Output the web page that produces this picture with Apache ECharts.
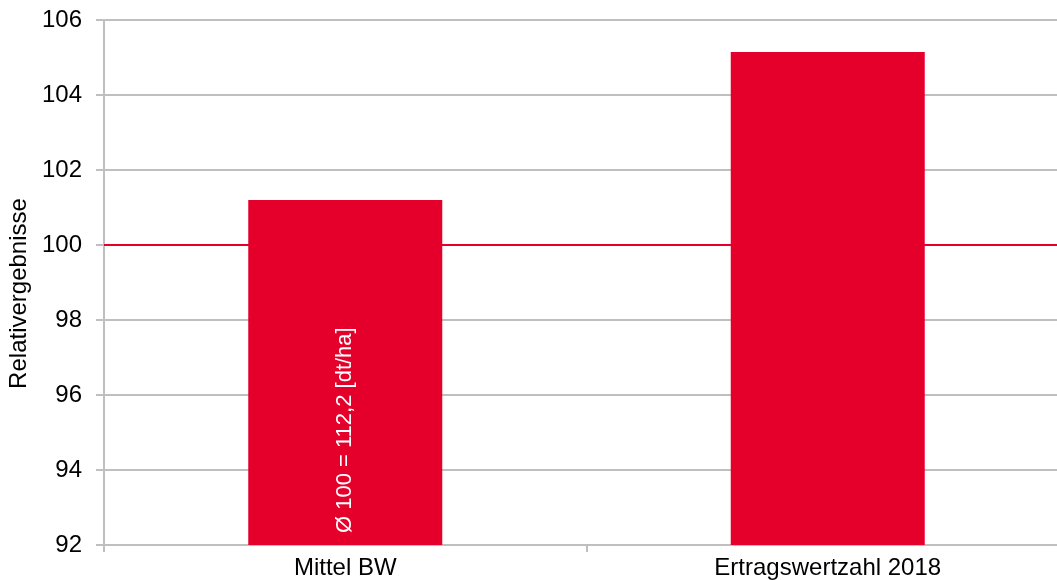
<!DOCTYPE html>
<html>
<head>
<meta charset="utf-8">
<script src="https://cdn.jsdelivr.net/npm/echarts@6/dist/echarts.min.js"></script>
<style>html,body{margin:0;padding:0;background:#fff}#c{width:1057px;height:580px}</style>
</head>
<body>
<div id="c"></div>
<script>
const categories = ['Mittel BW', 'Ertragswertzahl 2018'];
const values = [101.2, 105.15];
const referenceValue = 100;
const barNote = 'Ø 100 = 112,2 [dt/ha]';
const yTicks = { min: 92, max: 106, interval: 2 };
const yName = 'Relativergebnisse';

const chart = echarts.init(document.getElementById('c'));
const font = 'Liberation Sans, Arial, sans-serif';
chart.setOption({
  animation: false,
  grid: { left: 104, right: -12, top: 20, bottom: 35, containLabel: false, outerBoundsMode: 'none' },
  xAxis: {
    type: 'category',
    data: categories,
    axisLine: { lineStyle: { color: '#bfbfbf', width: 2 } },
    axisTick: { show: true, length: 7, lineStyle: { color: '#bfbfbf', width: 2 } },
    axisLabel: { color: '#000', fontSize: 24, fontFamily: font, margin: 11 }
  },
  yAxis: {
    type: 'value',
    min: yTicks.min, max: yTicks.max, interval: yTicks.interval,
    name: yName,
    nameLocation: 'middle',
    nameGap: 72,
    nameRotate: 90,
    nameTextStyle: { color: '#000', fontSize: 24, fontFamily: font, padding: [0, 22, 0, 0] },
    axisLine: { show: true, lineStyle: { color: '#bfbfbf', width: 2 } },
    axisTick: { show: true, length: 8, lineStyle: { color: '#bfbfbf', width: 2 } },
    axisLabel: { color: '#000', fontSize: 24, fontFamily: font, margin: 22 },
    splitLine: { show: true, lineStyle: { color: '#bfbfbf', width: 2 } }
  },
  series: [
    {
      type: 'line',
      data: [],
      z: 1,
      markLine: {
        silent: true,
        symbol: 'none',
        label: { show: false },
        lineStyle: { color: '#e4002b', width: 2, type: 'solid' },
        data: [{ yAxis: referenceValue }]
      }
    },
    {
      type: 'bar',
      z: 3,
      data: values.map((v, i) => i === 0 ? {
        value: v,
        label: {
          show: true,
          position: 'insideBottom',
          rotate: 90,
          align: 'left',
          verticalAlign: 'middle',
          distance: 12,
          formatter: barNote,
          color: '#fff',
          fontSize: 22,
          fontFamily: font
        }
      } : v),
      barWidth: 194,
      itemStyle: { color: '#e4002b' }
    }
  ]
});
</script>
</body>
</html>
